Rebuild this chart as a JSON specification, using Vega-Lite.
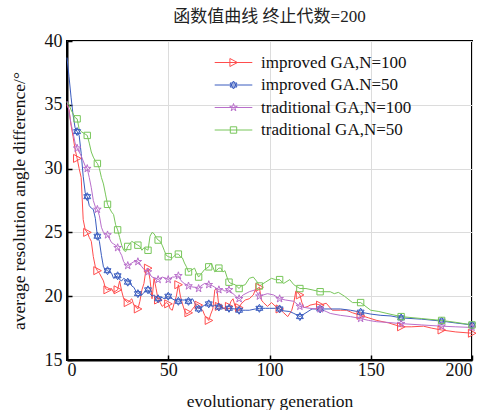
{
  "$schema": "https://vega.github.io/schema/vega-lite/v6.json",
  "width": 405,
  "height": 319,
  "autosize": {"type": "none"},
  "padding": {"left": 67, "top": 41, "right": 13, "bottom": 50},
  "background": "white",
  "title": {"text": "函数值曲线 终止代数=200", "font": "Liberation Serif, Times New Roman, Noto Sans CJK SC, serif", "fontSize": 17, "fontWeight": "normal", "color": "#222", "offset": 6, "anchor": "middle"},
  "config": {
    "view": {"stroke": "#000", "strokeWidth": 2},
    "axis": {"labelFont": "Liberation Serif, Times New Roman, serif", "labelFontSize": 18, "labelColor": "#111", "titleFont": "Liberation Serif, Times New Roman, serif", "titleFontSize": 17.5, "titleFontWeight": "normal", "titleColor": "#111", "domainColor": "#000", "domainWidth": 2, "tickColor": "#000", "tickSize": -5, "tickWidth": 1.5, "gridColor": "#dcdcdc", "gridWidth": 1},
    "legend": {"labelFont": "Liberation Serif, Times New Roman, serif", "title": null, "orient": "none", "legendX": 158, "legendY": 13, "padding": 0, "labelFontSize": 17, "labelColor": "#111", "labelOffset": 19, "labelLimit": 300, "symbolSize": 64, "symbolStrokeWidth": 1, "symbolFillColor": "transparent", "rowPadding": 4.5}
  },
  "datasets": {
    "d": [
      {"s":"improved GA,N=100","g":0,"v":35.0},{"s":"improved GA,N=100","g":1,"v":34.6},{"s":"improved GA,N=100","g":2,"v":33.4},{"s":"improved GA,N=100","g":3,"v":32.5},{"s":"improved GA,N=100","g":4,"v":31.5},{"s":"improved GA,N=100","g":5,"v":30.8},{"s":"improved GA,N=100","g":6,"v":30.0},{"s":"improved GA,N=100","g":7,"v":29.3},{"s":"improved GA,N=100","g":8,"v":26.0},{"s":"improved GA,N=100","g":9,"v":25.2},{"s":"improved GA,N=100","g":10,"v":25.0},{"s":"improved GA,N=100","g":11,"v":24.6},{"s":"improved GA,N=100","g":12,"v":24.3},{"s":"improved GA,N=100","g":13,"v":23.1},{"s":"improved GA,N=100","g":14,"v":22.3},{"s":"improved GA,N=100","g":15,"v":22.0},{"s":"improved GA,N=100","g":16,"v":21.8},{"s":"improved GA,N=100","g":17,"v":21.5},{"s":"improved GA,N=100","g":18,"v":21.2},{"s":"improved GA,N=100","g":19,"v":20.6},{"s":"improved GA,N=100","g":20,"v":20.5},{"s":"improved GA,N=100","g":22,"v":20.6},{"s":"improved GA,N=100","g":23,"v":20.3},{"s":"improved GA,N=100","g":25,"v":20.5},{"s":"improved GA,N=100","g":26,"v":21.2},{"s":"improved GA,N=100","g":27,"v":20.4},{"s":"improved GA,N=100","g":28,"v":19.8},{"s":"improved GA,N=100","g":30,"v":19.5},{"s":"improved GA,N=100","g":32,"v":19.8},{"s":"improved GA,N=100","g":33,"v":19.3},{"s":"improved GA,N=100","g":35,"v":19.0},{"s":"improved GA,N=100","g":36,"v":19.6},{"s":"improved GA,N=100","g":37,"v":20.5},{"s":"improved GA,N=100","g":38,"v":21.0},{"s":"improved GA,N=100","g":39,"v":22.1},{"s":"improved GA,N=100","g":40,"v":22.2},{"s":"improved GA,N=100","g":41,"v":21.3},{"s":"improved GA,N=100","g":42,"v":19.8},{"s":"improved GA,N=100","g":43,"v":21.4},{"s":"improved GA,N=100","g":44,"v":20.6},{"s":"improved GA,N=100","g":45,"v":19.7},{"s":"improved GA,N=100","g":46,"v":19.5},{"s":"improved GA,N=100","g":47,"v":19.2},{"s":"improved GA,N=100","g":49,"v":19.5},{"s":"improved GA,N=100","g":50,"v":19.4},{"s":"improved GA,N=100","g":51,"v":19.0},{"s":"improved GA,N=100","g":52,"v":18.9},{"s":"improved GA,N=100","g":53,"v":19.5},{"s":"improved GA,N=100","g":54,"v":20.0},{"s":"improved GA,N=100","g":55,"v":20.9},{"s":"improved GA,N=100","g":56,"v":20.0},{"s":"improved GA,N=100","g":57,"v":19.4},{"s":"improved GA,N=100","g":58,"v":18.9},{"s":"improved GA,N=100","g":59,"v":18.6},{"s":"improved GA,N=100","g":60,"v":18.7},{"s":"improved GA,N=100","g":61,"v":18.8},{"s":"improved GA,N=100","g":62,"v":19.0},{"s":"improved GA,N=100","g":64,"v":19.4},{"s":"improved GA,N=100","g":65,"v":19.3},{"s":"improved GA,N=100","g":66,"v":19.0},{"s":"improved GA,N=100","g":67,"v":18.9},{"s":"improved GA,N=100","g":68,"v":18.5},{"s":"improved GA,N=100","g":70,"v":18.1},{"s":"improved GA,N=100","g":71,"v":18.6},{"s":"improved GA,N=100","g":72,"v":19.0},{"s":"improved GA,N=100","g":73,"v":20.5},{"s":"improved GA,N=100","g":74,"v":20.6},{"s":"improved GA,N=100","g":75,"v":19.2},{"s":"improved GA,N=100","g":76,"v":19.4},{"s":"improved GA,N=100","g":77,"v":19.0},{"s":"improved GA,N=100","g":78,"v":19.1},{"s":"improved GA,N=100","g":80,"v":19.2},{"s":"improved GA,N=100","g":81,"v":19.6},{"s":"improved GA,N=100","g":82,"v":19.8},{"s":"improved GA,N=100","g":83,"v":19.2},{"s":"improved GA,N=100","g":85,"v":19.1},{"s":"improved GA,N=100","g":86,"v":19.4},{"s":"improved GA,N=100","g":88,"v":19.7},{"s":"improved GA,N=100","g":90,"v":19.8},{"s":"improved GA,N=100","g":92,"v":20.1},{"s":"improved GA,N=100","g":93,"v":20.5},{"s":"improved GA,N=100","g":95,"v":20.7},{"s":"improved GA,N=100","g":96,"v":19.7},{"s":"improved GA,N=100","g":97,"v":19.5},{"s":"improved GA,N=100","g":99,"v":19.2},{"s":"improved GA,N=100","g":101,"v":19.5},{"s":"improved GA,N=100","g":103,"v":19.2},{"s":"improved GA,N=100","g":105,"v":19.0},{"s":"improved GA,N=100","g":107,"v":18.7},{"s":"improved GA,N=100","g":109,"v":18.4},{"s":"improved GA,N=100","g":111,"v":18.9},{"s":"improved GA,N=100","g":112,"v":19.5},{"s":"improved GA,N=100","g":113,"v":20.4},{"s":"improved GA,N=100","g":115,"v":20.1},{"s":"improved GA,N=100","g":116,"v":19.5},{"s":"improved GA,N=100","g":117,"v":19.1},{"s":"improved GA,N=100","g":119,"v":19.2},{"s":"improved GA,N=100","g":120,"v":19.3},{"s":"improved GA,N=100","g":123,"v":19.4},{"s":"improved GA,N=100","g":125,"v":19.3},{"s":"improved GA,N=100","g":128,"v":19.45},{"s":"improved GA,N=100","g":131,"v":18.9},{"s":"improved GA,N=100","g":135,"v":18.9},{"s":"improved GA,N=100","g":138,"v":18.9},{"s":"improved GA,N=100","g":141,"v":18.7},{"s":"improved GA,N=100","g":145,"v":18.5},{"s":"improved GA,N=100","g":149,"v":18.3},{"s":"improved GA,N=100","g":153,"v":18.1},{"s":"improved GA,N=100","g":159,"v":17.9},{"s":"improved GA,N=100","g":165,"v":17.6},{"s":"improved GA,N=100","g":170,"v":17.6},{"s":"improved GA,N=100","g":176,"v":17.65},{"s":"improved GA,N=100","g":180,"v":17.5},{"s":"improved GA,N=100","g":185,"v":17.35},{"s":"improved GA,N=100","g":192,"v":17.2},{"s":"improved GA,N=100","g":200,"v":17.1},

      {"s":"improved GA.N=50","g":0,"v":38.7},{"s":"improved GA.N=50","g":1,"v":37.2},{"s":"improved GA.N=50","g":2,"v":35.6},{"s":"improved GA.N=50","g":3,"v":34.2},{"s":"improved GA.N=50","g":4,"v":33.2},{"s":"improved GA.N=50","g":5,"v":32.9},{"s":"improved GA.N=50","g":6,"v":32.6},{"s":"improved GA.N=50","g":7,"v":31.2},{"s":"improved GA.N=50","g":8,"v":29.4},{"s":"improved GA.N=50","g":9,"v":28.1},{"s":"improved GA.N=50","g":10,"v":27.8},{"s":"improved GA.N=50","g":11,"v":27.1},{"s":"improved GA.N=50","g":12,"v":26.9},{"s":"improved GA.N=50","g":13,"v":26.8},{"s":"improved GA.N=50","g":14,"v":26.1},{"s":"improved GA.N=50","g":15,"v":24.7},{"s":"improved GA.N=50","g":16,"v":24.3},{"s":"improved GA.N=50","g":17,"v":23.2},{"s":"improved GA.N=50","g":18,"v":22.3},{"s":"improved GA.N=50","g":19,"v":22.1},{"s":"improved GA.N=50","g":20,"v":22.0},{"s":"improved GA.N=50","g":21,"v":21.9},{"s":"improved GA.N=50","g":22,"v":21.8},{"s":"improved GA.N=50","g":23,"v":21.4},{"s":"improved GA.N=50","g":24,"v":21.5},{"s":"improved GA.N=50","g":25,"v":21.6},{"s":"improved GA.N=50","g":26,"v":21.3},{"s":"improved GA.N=50","g":27,"v":21.2},{"s":"improved GA.N=50","g":28,"v":21.4},{"s":"improved GA.N=50","g":29,"v":21.3},{"s":"improved GA.N=50","g":30,"v":21.1},{"s":"improved GA.N=50","g":31,"v":21.2},{"s":"improved GA.N=50","g":32,"v":20.8},{"s":"improved GA.N=50","g":33,"v":20.7},{"s":"improved GA.N=50","g":34,"v":20.4},{"s":"improved GA.N=50","g":35,"v":20.2},{"s":"improved GA.N=50","g":36,"v":20.3},{"s":"improved GA.N=50","g":37,"v":20.1},{"s":"improved GA.N=50","g":38,"v":20.3},{"s":"improved GA.N=50","g":40,"v":20.5},{"s":"improved GA.N=50","g":41,"v":20.2},{"s":"improved GA.N=50","g":42,"v":20.0},{"s":"improved GA.N=50","g":43,"v":20.1},{"s":"improved GA.N=50","g":45,"v":19.8},{"s":"improved GA.N=50","g":47,"v":19.9},{"s":"improved GA.N=50","g":48,"v":19.8},{"s":"improved GA.N=50","g":50,"v":20.0},{"s":"improved GA.N=50","g":51,"v":19.9},{"s":"improved GA.N=50","g":53,"v":19.7},{"s":"improved GA.N=50","g":55,"v":19.6},{"s":"improved GA.N=50","g":57,"v":19.7},{"s":"improved GA.N=50","g":58,"v":19.7},{"s":"improved GA.N=50","g":60,"v":19.6},{"s":"improved GA.N=50","g":62,"v":19.8},{"s":"improved GA.N=50","g":63,"v":19.5},{"s":"improved GA.N=50","g":64,"v":19.2},{"s":"improved GA.N=50","g":65,"v":19.0},{"s":"improved GA.N=50","g":66,"v":19.1},{"s":"improved GA.N=50","g":67,"v":19.2},{"s":"improved GA.N=50","g":69,"v":19.4},{"s":"improved GA.N=50","g":70,"v":19.4},{"s":"improved GA.N=50","g":72,"v":19.2},{"s":"improved GA.N=50","g":73,"v":19.3},{"s":"improved GA.N=50","g":75,"v":19.15},{"s":"improved GA.N=50","g":76,"v":19.2},{"s":"improved GA.N=50","g":78,"v":19.0},{"s":"improved GA.N=50","g":80,"v":19.05},{"s":"improved GA.N=50","g":83,"v":19.0},{"s":"improved GA.N=50","g":85,"v":18.9},{"s":"improved GA.N=50","g":88,"v":18.9},{"s":"improved GA.N=50","g":90,"v":18.9},{"s":"improved GA.N=50","g":93,"v":19.0},{"s":"improved GA.N=50","g":95,"v":19.05},{"s":"improved GA.N=50","g":98,"v":19.05},{"s":"improved GA.N=50","g":100,"v":19.05},{"s":"improved GA.N=50","g":103,"v":19.05},{"s":"improved GA.N=50","g":105,"v":19.0},{"s":"improved GA.N=50","g":107,"v":18.85},{"s":"improved GA.N=50","g":110,"v":18.8},{"s":"improved GA.N=50","g":112,"v":18.65},{"s":"improved GA.N=50","g":114,"v":18.5},{"s":"improved GA.N=50","g":115,"v":18.4},{"s":"improved GA.N=50","g":117,"v":18.6},{"s":"improved GA.N=50","g":119,"v":18.8},{"s":"improved GA.N=50","g":121,"v":19.0},{"s":"improved GA.N=50","g":125,"v":19.0},{"s":"improved GA.N=50","g":130,"v":19.0},{"s":"improved GA.N=50","g":135,"v":19.0},{"s":"improved GA.N=50","g":140,"v":18.9},{"s":"improved GA.N=50","g":145,"v":18.75},{"s":"improved GA.N=50","g":150,"v":18.6},{"s":"improved GA.N=50","g":155,"v":18.5},{"s":"improved GA.N=50","g":160,"v":18.45},{"s":"improved GA.N=50","g":165,"v":18.3},{"s":"improved GA.N=50","g":175,"v":18.2},{"s":"improved GA.N=50","g":185,"v":18.05},{"s":"improved GA.N=50","g":192,"v":17.9},{"s":"improved GA.N=50","g":200,"v":17.75},

      {"s":"traditional GA,N=100","g":0,"v":35.3},{"s":"traditional GA,N=100","g":1,"v":34.5},{"s":"traditional GA,N=100","g":2,"v":33.5},{"s":"traditional GA,N=100","g":3,"v":32.8},{"s":"traditional GA,N=100","g":4,"v":32.0},{"s":"traditional GA,N=100","g":5,"v":31.6},{"s":"traditional GA,N=100","g":6,"v":31.3},{"s":"traditional GA,N=100","g":7,"v":31.0},{"s":"traditional GA,N=100","g":8,"v":30.6},{"s":"traditional GA,N=100","g":9,"v":30.2},{"s":"traditional GA,N=100","g":10,"v":30.0},{"s":"traditional GA,N=100","g":11,"v":29.3},{"s":"traditional GA,N=100","g":12,"v":28.5},{"s":"traditional GA,N=100","g":13,"v":27.5},{"s":"traditional GA,N=100","g":14,"v":27.0},{"s":"traditional GA,N=100","g":15,"v":26.8},{"s":"traditional GA,N=100","g":16,"v":26.3},{"s":"traditional GA,N=100","g":17,"v":25.4},{"s":"traditional GA,N=100","g":18,"v":25.0},{"s":"traditional GA,N=100","g":19,"v":24.9},{"s":"traditional GA,N=100","g":20,"v":24.8},{"s":"traditional GA,N=100","g":21,"v":24.5},{"s":"traditional GA,N=100","g":22,"v":24.2},{"s":"traditional GA,N=100","g":23,"v":24.1},{"s":"traditional GA,N=100","g":24,"v":24.0},{"s":"traditional GA,N=100","g":25,"v":23.8},{"s":"traditional GA,N=100","g":26,"v":23.5},{"s":"traditional GA,N=100","g":27,"v":23.2},{"s":"traditional GA,N=100","g":28,"v":22.7},{"s":"traditional GA,N=100","g":29,"v":22.5},{"s":"traditional GA,N=100","g":30,"v":22.4},{"s":"traditional GA,N=100","g":31,"v":22.5},{"s":"traditional GA,N=100","g":32,"v":22.6},{"s":"traditional GA,N=100","g":33,"v":22.7},{"s":"traditional GA,N=100","g":35,"v":22.7},{"s":"traditional GA,N=100","g":36,"v":22.5},{"s":"traditional GA,N=100","g":37,"v":22.3},{"s":"traditional GA,N=100","g":38,"v":22.1},{"s":"traditional GA,N=100","g":40,"v":21.9},{"s":"traditional GA,N=100","g":41,"v":21.7},{"s":"traditional GA,N=100","g":42,"v":21.5},{"s":"traditional GA,N=100","g":44,"v":21.4},{"s":"traditional GA,N=100","g":45,"v":21.3},{"s":"traditional GA,N=100","g":46,"v":21.4},{"s":"traditional GA,N=100","g":47,"v":21.5},{"s":"traditional GA,N=100","g":49,"v":21.4},{"s":"traditional GA,N=100","g":50,"v":21.3},{"s":"traditional GA,N=100","g":52,"v":21.5},{"s":"traditional GA,N=100","g":53,"v":21.5},{"s":"traditional GA,N=100","g":55,"v":21.6},{"s":"traditional GA,N=100","g":56,"v":21.3},{"s":"traditional GA,N=100","g":57,"v":21.1},{"s":"traditional GA,N=100","g":58,"v":21.0},{"s":"traditional GA,N=100","g":60,"v":20.8},{"s":"traditional GA,N=100","g":61,"v":20.75},{"s":"traditional GA,N=100","g":63,"v":20.7},{"s":"traditional GA,N=100","g":65,"v":20.6},{"s":"traditional GA,N=100","g":66,"v":20.8},{"s":"traditional GA,N=100","g":68,"v":21.0},{"s":"traditional GA,N=100","g":70,"v":20.9},{"s":"traditional GA,N=100","g":72,"v":20.8},{"s":"traditional GA,N=100","g":73,"v":20.7},{"s":"traditional GA,N=100","g":75,"v":20.5},{"s":"traditional GA,N=100","g":77,"v":20.5},{"s":"traditional GA,N=100","g":78,"v":20.4},{"s":"traditional GA,N=100","g":80,"v":20.5},{"s":"traditional GA,N=100","g":81,"v":20.3},{"s":"traditional GA,N=100","g":82,"v":20.2},{"s":"traditional GA,N=100","g":84,"v":19.9},{"s":"traditional GA,N=100","g":85,"v":19.8},{"s":"traditional GA,N=100","g":87,"v":20.1},{"s":"traditional GA,N=100","g":90,"v":20.35},{"s":"traditional GA,N=100","g":93,"v":20.5},{"s":"traditional GA,N=100","g":95,"v":20.0},{"s":"traditional GA,N=100","g":97,"v":20.1},{"s":"traditional GA,N=100","g":99,"v":20.2},{"s":"traditional GA,N=100","g":102,"v":20.1},{"s":"traditional GA,N=100","g":105,"v":19.8},{"s":"traditional GA,N=100","g":108,"v":19.7},{"s":"traditional GA,N=100","g":112,"v":19.6},{"s":"traditional GA,N=100","g":115,"v":19.2},{"s":"traditional GA,N=100","g":118,"v":19.1},{"s":"traditional GA,N=100","g":120,"v":19.05},{"s":"traditional GA,N=100","g":123,"v":19.0},{"s":"traditional GA,N=100","g":125,"v":19.0},{"s":"traditional GA,N=100","g":128,"v":18.8},{"s":"traditional GA,N=100","g":130,"v":18.65},{"s":"traditional GA,N=100","g":135,"v":18.5},{"s":"traditional GA,N=100","g":140,"v":18.4},{"s":"traditional GA,N=100","g":145,"v":18.25},{"s":"traditional GA,N=100","g":149,"v":18.1},{"s":"traditional GA,N=100","g":153,"v":18.0},{"s":"traditional GA,N=100","g":158,"v":17.95},{"s":"traditional GA,N=100","g":165,"v":17.85},{"s":"traditional GA,N=100","g":175,"v":17.75},{"s":"traditional GA,N=100","g":185,"v":17.65},{"s":"traditional GA,N=100","g":192,"v":17.6},{"s":"traditional GA,N=100","g":200,"v":17.55},

      {"s":"traditional GA,N=50","g":0,"v":35.2},{"s":"traditional GA,N=50","g":1,"v":35.0},{"s":"traditional GA,N=50","g":2,"v":34.6},{"s":"traditional GA,N=50","g":3,"v":34.3},{"s":"traditional GA,N=50","g":4,"v":34.0},{"s":"traditional GA,N=50","g":5,"v":33.9},{"s":"traditional GA,N=50","g":6,"v":33.1},{"s":"traditional GA,N=50","g":7,"v":32.9},{"s":"traditional GA,N=50","g":8,"v":32.8},{"s":"traditional GA,N=50","g":9,"v":32.7},{"s":"traditional GA,N=50","g":10,"v":32.6},{"s":"traditional GA,N=50","g":11,"v":32.0},{"s":"traditional GA,N=50","g":12,"v":31.3},{"s":"traditional GA,N=50","g":13,"v":30.9},{"s":"traditional GA,N=50","g":14,"v":30.6},{"s":"traditional GA,N=50","g":15,"v":30.4},{"s":"traditional GA,N=50","g":16,"v":30.0},{"s":"traditional GA,N=50","g":17,"v":29.3},{"s":"traditional GA,N=50","g":18,"v":28.8},{"s":"traditional GA,N=50","g":19,"v":28.0},{"s":"traditional GA,N=50","g":20,"v":27.2},{"s":"traditional GA,N=50","g":21,"v":26.9},{"s":"traditional GA,N=50","g":22,"v":26.6},{"s":"traditional GA,N=50","g":23,"v":26.4},{"s":"traditional GA,N=50","g":24,"v":25.6},{"s":"traditional GA,N=50","g":25,"v":25.2},{"s":"traditional GA,N=50","g":26,"v":24.6},{"s":"traditional GA,N=50","g":27,"v":24.0},{"s":"traditional GA,N=50","g":28,"v":23.6},{"s":"traditional GA,N=50","g":29,"v":23.5},{"s":"traditional GA,N=50","g":30,"v":23.9},{"s":"traditional GA,N=50","g":31,"v":24.1},{"s":"traditional GA,N=50","g":32,"v":24.3},{"s":"traditional GA,N=50","g":33,"v":24.2},{"s":"traditional GA,N=50","g":35,"v":24.0},{"s":"traditional GA,N=50","g":36,"v":23.9},{"s":"traditional GA,N=50","g":37,"v":23.6},{"s":"traditional GA,N=50","g":38,"v":23.8},{"s":"traditional GA,N=50","g":39,"v":23.7},{"s":"traditional GA,N=50","g":40,"v":23.6},{"s":"traditional GA,N=50","g":41,"v":24.7},{"s":"traditional GA,N=50","g":42,"v":25.0},{"s":"traditional GA,N=50","g":43,"v":24.9},{"s":"traditional GA,N=50","g":44,"v":24.6},{"s":"traditional GA,N=50","g":45,"v":24.4},{"s":"traditional GA,N=50","g":46,"v":24.3},{"s":"traditional GA,N=50","g":47,"v":24.0},{"s":"traditional GA,N=50","g":48,"v":23.6},{"s":"traditional GA,N=50","g":49,"v":23.2},{"s":"traditional GA,N=50","g":50,"v":23.1},{"s":"traditional GA,N=50","g":52,"v":23.0},{"s":"traditional GA,N=50","g":54,"v":23.3},{"s":"traditional GA,N=50","g":55,"v":23.3},{"s":"traditional GA,N=50","g":56,"v":23.1},{"s":"traditional GA,N=50","g":57,"v":23.0},{"s":"traditional GA,N=50","g":58,"v":22.6},{"s":"traditional GA,N=50","g":59,"v":22.3},{"s":"traditional GA,N=50","g":60,"v":21.9},{"s":"traditional GA,N=50","g":61,"v":22.0},{"s":"traditional GA,N=50","g":63,"v":22.2},{"s":"traditional GA,N=50","g":64,"v":21.8},{"s":"traditional GA,N=50","g":65,"v":21.5},{"s":"traditional GA,N=50","g":66,"v":21.7},{"s":"traditional GA,N=50","g":68,"v":22.1},{"s":"traditional GA,N=50","g":70,"v":22.3},{"s":"traditional GA,N=50","g":71,"v":22.6},{"s":"traditional GA,N=50","g":72,"v":22.3},{"s":"traditional GA,N=50","g":73,"v":21.9},{"s":"traditional GA,N=50","g":75,"v":22.2},{"s":"traditional GA,N=50","g":76,"v":22.2},{"s":"traditional GA,N=50","g":77,"v":21.9},{"s":"traditional GA,N=50","g":78,"v":22.0},{"s":"traditional GA,N=50","g":79,"v":21.5},{"s":"traditional GA,N=50","g":80,"v":21.1},{"s":"traditional GA,N=50","g":81,"v":21.0},{"s":"traditional GA,N=50","g":83,"v":20.9},{"s":"traditional GA,N=50","g":85,"v":20.6},{"s":"traditional GA,N=50","g":86,"v":20.8},{"s":"traditional GA,N=50","g":88,"v":20.9},{"s":"traditional GA,N=50","g":90,"v":21.4},{"s":"traditional GA,N=50","g":92,"v":21.5},{"s":"traditional GA,N=50","g":94,"v":21.1},{"s":"traditional GA,N=50","g":95,"v":20.8},{"s":"traditional GA,N=50","g":96,"v":20.9},{"s":"traditional GA,N=50","g":98,"v":21.1},{"s":"traditional GA,N=50","g":101,"v":21.4},{"s":"traditional GA,N=50","g":103,"v":21.3},{"s":"traditional GA,N=50","g":105,"v":21.3},{"s":"traditional GA,N=50","g":107,"v":21.0},{"s":"traditional GA,N=50","g":110,"v":21.3},{"s":"traditional GA,N=50","g":112,"v":20.9},{"s":"traditional GA,N=50","g":115,"v":20.6},{"s":"traditional GA,N=50","g":118,"v":20.6},{"s":"traditional GA,N=50","g":121,"v":20.5},{"s":"traditional GA,N=50","g":125,"v":20.35},{"s":"traditional GA,N=50","g":130,"v":20.35},{"s":"traditional GA,N=50","g":132,"v":20.2},{"s":"traditional GA,N=50","g":134,"v":20.3},{"s":"traditional GA,N=50","g":137,"v":20.0},{"s":"traditional GA,N=50","g":141,"v":19.5},{"s":"traditional GA,N=50","g":145,"v":19.5},{"s":"traditional GA,N=50","g":150,"v":18.9},{"s":"traditional GA,N=50","g":154,"v":18.8},{"s":"traditional GA,N=50","g":158,"v":18.65},{"s":"traditional GA,N=50","g":165,"v":18.4},{"s":"traditional GA,N=50","g":175,"v":18.25},{"s":"traditional GA,N=50","g":185,"v":18.1},{"s":"traditional GA,N=50","g":192,"v":17.95},{"s":"traditional GA,N=50","g":200,"v":17.75}
    ]
  },
  "data": {"name": "d"},
  "encoding": {
    "x": {"field": "g", "type": "quantitative", "scale": {"domain": [0, 200], "nice": false}, "axis": {"values": [0, 50, 100, 150, 200], "title": "evolutionary generation", "labelPadding": 6, "titlePadding": 13}},
    "y": {"field": "v", "type": "quantitative", "scale": {"domain": [15, 40], "nice": false, "zero": false}, "axis": {"values": [15, 20, 25, 30, 35, 40], "title": "average resolution angle difference/°", "labelPadding": 10, "titlePadding": 16}}
  },
  "layer": [
    {
      "mark": {"type": "line", "strokeWidth": 1},
      "encoding": {
        "stroke": {"field": "s", "type": "nominal", "scale": {"range": ["#ff4d4d", "#3a5cbf", "#b96fcb", "#78c65a"]},
          "legend": {"symbolType": "M-4.7,0H4.7", "labelOpacity": 0}}
      }
    },
    {
      "transform": [{"filter": {"field": "g", "oneOf": [5, 10, 15, 20, 25, 30, 35, 40, 45, 50, 55, 60, 65, 70, 75, 80, 85, 95, 105, 115, 125, 145, 165, 185, 200]}}],
      "mark": {"type": "point", "filled": false, "size": 64, "strokeWidth": 1, "opacity": 1},
      "encoding": {
        "color": {"field": "s", "type": "nominal", "scale": {"domain": ["improved GA,N=100", "improved GA.N=50", "traditional GA,N=100", "traditional GA,N=50"], "range": ["#ff4d4d", "#3a5cbf", "#b96fcb", "#78c65a"]}},
        "shape": {"field": "s", "type": "nominal",
          "scale": {"domain": ["improved GA,N=100", "improved GA.N=50", "traditional GA,N=100", "traditional GA,N=50"],
                    "range": ["M-0.9,-1L1,0L-0.9,1Z", "M0,-1L0.866,0.5L-0.866,0.5ZM0,1L0.866,-0.5L-0.866,-0.5Z", "M0,-1L0.2234,-0.3074L0.9511,-0.309L0.3614,0.1174L0.5878,0.809L0,0.38L-0.5878,0.809L-0.3614,0.1174L-0.9511,-0.309L-0.2234,-0.3074Z", "M-0.8,-0.8H0.8V0.8H-0.8Z"]}}
      }
    }
  ]
}
